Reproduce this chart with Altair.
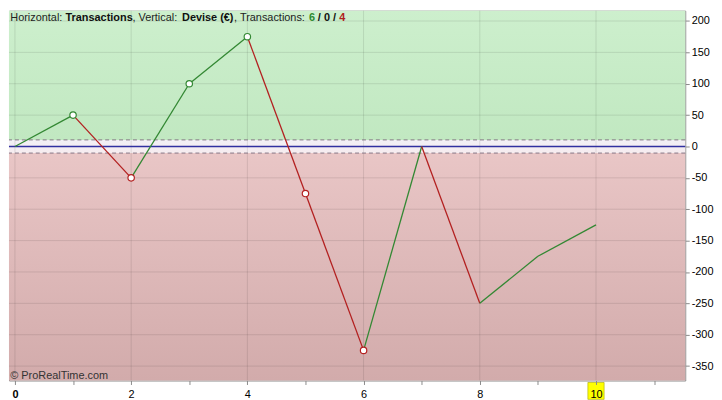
import altair as alt
import pandas as pd

# ---- data ----
trade_no = [0, 1, 2, 3, 4, 5, 6, 7, 8, 9, 10]
equity = [0, 50, -50, 100, 175, -75, -325, 0, -250, -175, -125]
marked = [1, 2, 3, 4, 5, 6]
x_ticks = [0, 1, 2, 3, 4, 5, 6, 7, 8, 9, 10, 11]
x_grid = [0, 2, 4, 6, 8, 10]
y_ticks = [200, 150, 100, 50, 0, -50, -100, -150, -200, -250, -300, -350]
band = 10.5
x_min, x_max = -0.1024, 11.536
y_min, y_max = -373.0, 216.5

GREEN = "#338833"
RED = "#b32020"
FONT = "Liberation Sans"

# ---- tables ----
seg = pd.DataFrame({
    "x": trade_no[:-1], "y": equity[:-1],
    "x2": trade_no[1:], "y2": equity[1:],
})
seg["dir"] = ["win" if b > a else "loss" for a, b in zip(equity[:-1], equity[1:])]

pts = pd.DataFrame({
    "x": marked,
    "y": [equity[i] for i in marked],
    "dir": ["win" if equity[i] > equity[i - 1] else "loss" for i in marked],
})

one = pd.DataFrame({"k": [0]})

xs = alt.Scale(domain=[x_min, x_max], nice=False, zero=False)
ys = alt.Scale(domain=[y_min, y_max], nice=False, zero=False)
col = alt.Scale(domain=["win", "loss"], range=[GREEN, RED])

x_axis = alt.Axis(
    orient="bottom", values=x_ticks, grid=False, domain=False,
    tickSize=4, tickColor="#8a8a8a", labelPadding=4,
    labelFont=FONT, labelFontSize=11, labelColor="#000",
    labelExpr="datum.value % 2 == 0 ? datum.label : ''",
    labelFontWeight={"condition": {"test": "datum.value == 0", "value": "bold"}, "value": "normal"},
    zindex=1,
)
y_axis = alt.Axis(
    orient="right", values=y_ticks, grid=False, domain=False,
    tickSize=4, tickColor="#8a8a8a", labelPadding=2,
    labelFont=FONT, labelFontSize=11, labelColor="#000",
    labelExpr="'' + datum.value",
)


def X(f):
    return alt.X(f, type="quantitative", scale=xs, axis=x_axis, title=None)


def Y(f):
    return alt.Y(f, type="quantitative", scale=ys, axis=y_axis, title=None)


def grad(top, bottom):
    return alt.Gradient(
        gradient="linear",
        stops=[alt.GradientStop(color=top, offset=0), alt.GradientStop(color=bottom, offset=1)],
        x1=0, x2=0, y1=0, y2=1,
    )


def bg(lo, hi, color):
    d = pd.DataFrame({"x": [x_min], "x2": [x_max], "y": [lo], "y2": [hi]})
    return alt.Chart(d).mark_rect(color=color).encode(x=X("x"), x2="x2", y=Y("y"), y2="y2")


green_bg = bg(band, y_max, grad("#cdefcd", "#c1e8c1"))
mid_bg = bg(-band, band, grad("#f2f0f6", "#f6ecef"))
red_bg = bg(y_min, -band, grad("#e9c6c6", "#d2abab"))

vgrid = alt.Chart(pd.DataFrame({"x": x_grid})).mark_rule(
    color="#000", opacity=0.1, strokeWidth=1).encode(x=X("x"))
hgrid = alt.Chart(pd.DataFrame({"y": y_ticks})).mark_rule(
    color="#000", opacity=0.1, strokeWidth=1).encode(y=Y("y"))

dashed = alt.Chart(pd.DataFrame({"y": [band, -band]})).mark_rule(
    color="#857585", strokeDash=[4, 3], strokeWidth=1).encode(y=Y("y"))
zero_line = alt.Chart(pd.DataFrame({"y": [0]})).mark_rule(
    color="#3030a0", strokeWidth=1.6).encode(y=Y("y"))

lines = alt.Chart(seg).mark_rule(strokeWidth=1.3).encode(
    x=X("x"), y=Y("y"), x2="x2", y2="y2",
    color=alt.Color("dir:N", scale=col, legend=None),
)

markers = alt.Chart(pts).mark_point(
    shape="circle", size=42, fill="white", fillOpacity=1, opacity=1, strokeWidth=1.2
).encode(
    x=X("x"), y=Y("y"),
    stroke=alt.Stroke("dir:N", scale=col, legend=None),
)

hl = pd.DataFrame({"x": [9.86], "x2": [10.14]})
hl_box = alt.Chart(hl).mark_rect(color="#ffff00", stroke="#a8a800", strokeWidth=0.6).encode(
    x=X("x"), x2="x2", y=alt.value(375), y2=alt.value(392))


def label(txt, px, py, weight="normal", color="#222222", size=11):
    return alt.Chart(one).mark_text(
        align="left", baseline="alphabetic", font=FONT, fontSize=size,
        fontWeight=weight, color=color, text=txt,
    ).encode(x=alt.value(px), y=alt.value(py))


ty = 10
title_parts = [
    label("Horizontal:", 1.3, ty),
    label("Transactions", 57, ty, "bold", "#111111"),
    label(", Vertical:", 124.5, ty),
    label("Devise (€)", 174.5, ty, "bold", "#111111"),
    label(", Transactions:", 227, ty),
    label("6", 302.5, ty, "bold", "#2f8a2f"),
    label("/ 0 /", 311.5, ty, "bold", "#111111"),
    label("4", 333, ty, "bold", "#b02020"),
]
watermark = label("© ProRealTime.com", 1.3, 371, "normal", "#333333")

chart = alt.layer(
    green_bg, mid_bg, red_bg, vgrid, hgrid, dashed, zero_line,
    lines, markers, *title_parts, watermark, hl_box,
).properties(
    width=682, height=373, padding=0,
).configure_view(
    stroke="#8c8c8c", strokeWidth=1,
)

chart.save("out.html", embed_options={"renderer": "svg", "actions": False})
